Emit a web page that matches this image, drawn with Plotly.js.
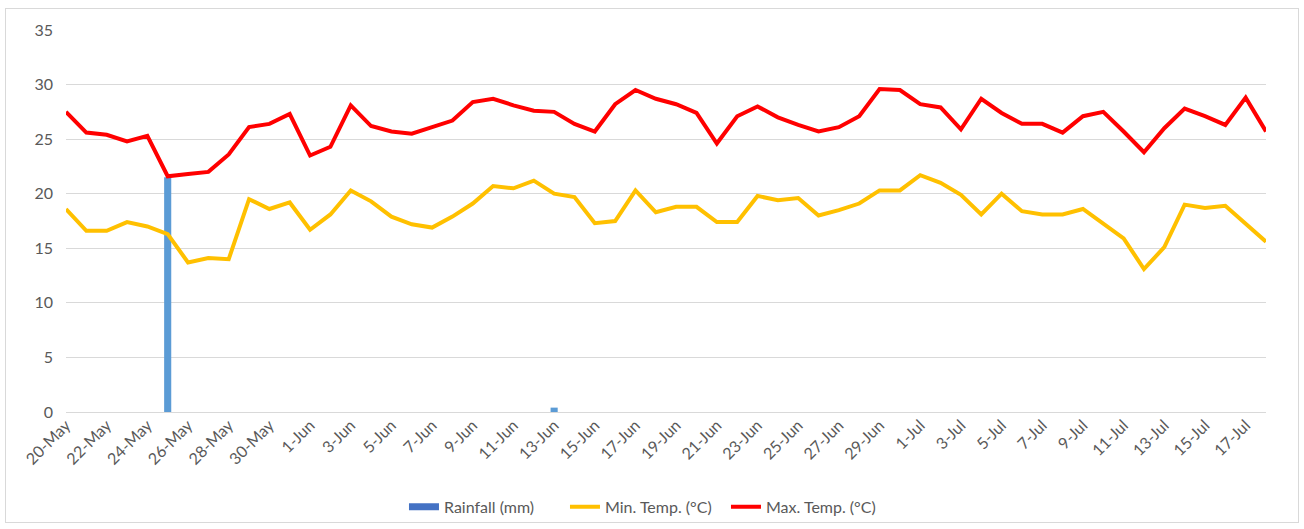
<!DOCTYPE html>
<html>
<head>
<meta charset="utf-8">
<script src="https://cdn.plot.ly/plotly-3.0.1.min.js"></script>
<style>
  html, body { margin: 0; padding: 0; background: #ffffff; }
  #wrap { position: relative; width: 1304px; height: 529px; }
  #chart { position: absolute; left: 0; top: 0; width: 1304px; height: 529px; }
  #frame { position: absolute; left: 5px; top: 8px; width: 1292px; height: 513px; border: 1px solid #d9d9d9; pointer-events: none; }
</style>
</head>
<body>
<div id="wrap">
  <div id="chart"></div>
  <div id="frame"></div>
</div>
<script>
const dates = [
  "20-May","21-May","22-May","23-May","24-May","25-May","26-May","27-May","28-May","29-May","30-May","31-May",
  "1-Jun","2-Jun","3-Jun","4-Jun","5-Jun","6-Jun","7-Jun","8-Jun","9-Jun","10-Jun",
  "11-Jun","12-Jun","13-Jun","14-Jun","15-Jun","16-Jun","17-Jun","18-Jun","19-Jun","20-Jun",
  "21-Jun","22-Jun","23-Jun","24-Jun","25-Jun","26-Jun","27-Jun","28-Jun","29-Jun","30-Jun",
  "1-Jul","2-Jul","3-Jul","4-Jul","5-Jul","6-Jul","7-Jul","8-Jul","9-Jul","10-Jul",
  "11-Jul","12-Jul","13-Jul","14-Jul","15-Jul","16-Jul","17-Jul","18-Jul"
];

const tickLabels = [
  "20-May","22-May","24-May","26-May","28-May","30-May",
  "1-Jun","3-Jun","5-Jun","7-Jun","9-Jun","11-Jun","13-Jun","15-Jun","17-Jun","19-Jun",
  "21-Jun","23-Jun","25-Jun","27-Jun","29-Jun",
  "1-Jul","3-Jul","5-Jul","7-Jul","9-Jul","11-Jul","13-Jul","15-Jul","17-Jul"
];

const rainfall = [
  0,0,0,0,0,21.5,0,0,0,0,0,0,
  0,0,0,0,0,0,0,0,0,0,
  0,0,0.4,0,0,0,0,0,0,0,
  0,0,0,0,0,0,0,0,0,0,
  0,0,0,0,0,0,0,0,0,0,
  0,0,0,0,0,0,0,0
];

const minTemp = [
  18.6,16.6,16.6,17.4,17.0,16.3,13.7,14.1,14.0,19.5,
  18.6,19.2,16.7,18.1,20.3,19.3,17.9,17.2,16.9,17.9,
  19.1,20.7,20.5,21.2,20.0,19.7,17.3,17.5,20.3,18.3,
  18.8,18.8,17.4,17.4,19.8,19.4,19.6,18.0,18.5,19.1,
  20.3,20.3,21.7,21.0,19.9,18.1,20.0,18.4,18.1,18.1,
  18.6,17.3,15.9,13.1,15.1,19.0,18.7,18.9,17.3,15.6
];

const maxTemp = [
  27.5,25.6,25.4,24.8,25.3,21.6,21.8,22.0,23.6,26.1,
  26.4,27.3,23.5,24.3,28.1,26.2,25.7,25.5,26.1,26.7,
  28.4,28.7,28.1,27.6,27.5,26.4,25.7,28.2,29.5,28.7,
  28.2,27.4,24.6,27.1,28.0,27.0,26.3,25.7,26.1,27.1,
  29.6,29.5,28.2,27.9,25.9,28.7,27.4,26.4,26.4,25.6,
  27.1,27.5,25.7,23.8,26.0,27.8,27.1,26.3,28.8,25.7
];

const seriesNames = ["Rainfall (mm)", "Min. Temp. (°C)", "Max. Temp. (°C)"];

const FONT = "Lato, 'Open Sans', sans-serif";
const TXT = "#595959";
const FS = 16;

const traces = [
  { type: "bar", name: seriesNames[0], x: dates, y: rainfall, showlegend: false,
    marker: { color: "#5B9BD5" }, width: 0.35 },
  // legend entry for the rainfall bars (wide rectangular swatch as in the reference)
  { type: "scatter", mode: "lines", name: seriesNames[0], x: [null], y: [null],
    line: { color: "#4472C4", width: 7 }, hoverinfo: "skip" },
  { type: "scatter", mode: "lines", name: seriesNames[1], x: dates, y: minTemp,
    line: { color: "#FFC000", width: 4 } },
  { type: "scatter", mode: "lines", name: seriesNames[2], x: dates, y: maxTemp,
    line: { color: "#FF0000", width: 4 } }
];

const layout = {
  width: 1304, height: 529,
  margin: { l: 66, r: 38, t: 30, b: 117 },
  paper_bgcolor: "rgba(0,0,0,0)",
  plot_bgcolor: "rgba(0,0,0,0)",
  font: { family: FONT, size: FS, color: TXT },
  showlegend: true,
  legend: { orientation: "h", x: 0.495, xanchor: "center", xref: "container",
            y: 0.042, yanchor: "middle", yref: "container",
            font: { family: FONT, size: FS, color: TXT }, traceorder: "normal",
            itemwidth: 30, entrywidth: 116, entrywidthmode: "pixels" },
  xaxis: {
    type: "category", range: [0, 59], automargin: false,
    tickmode: "array", tickvals: tickLabels, ticktext: tickLabels,
    tickangle: -45, showgrid: false, zeroline: false, showline: false,
    ticks: "", tickfont: { family: FONT, size: FS, color: TXT }
  },
  yaxis: {
    range: [0, 35], dtick: 5, tick0: 0, automargin: false,
    showgrid: true, gridcolor: "#d9d9d9", gridwidth: 1,
    zeroline: true, zerolinecolor: "#d9d9d9", zerolinewidth: 1,
    showline: false, ticks: "", ticklabelstandoff: 12,
    tickfont: { family: FONT, size: FS, color: TXT }
  }
};

Plotly.newPlot("chart", traces, layout, { displayModeBar: false, staticPlot: true });
</script>
</body>
</html>
